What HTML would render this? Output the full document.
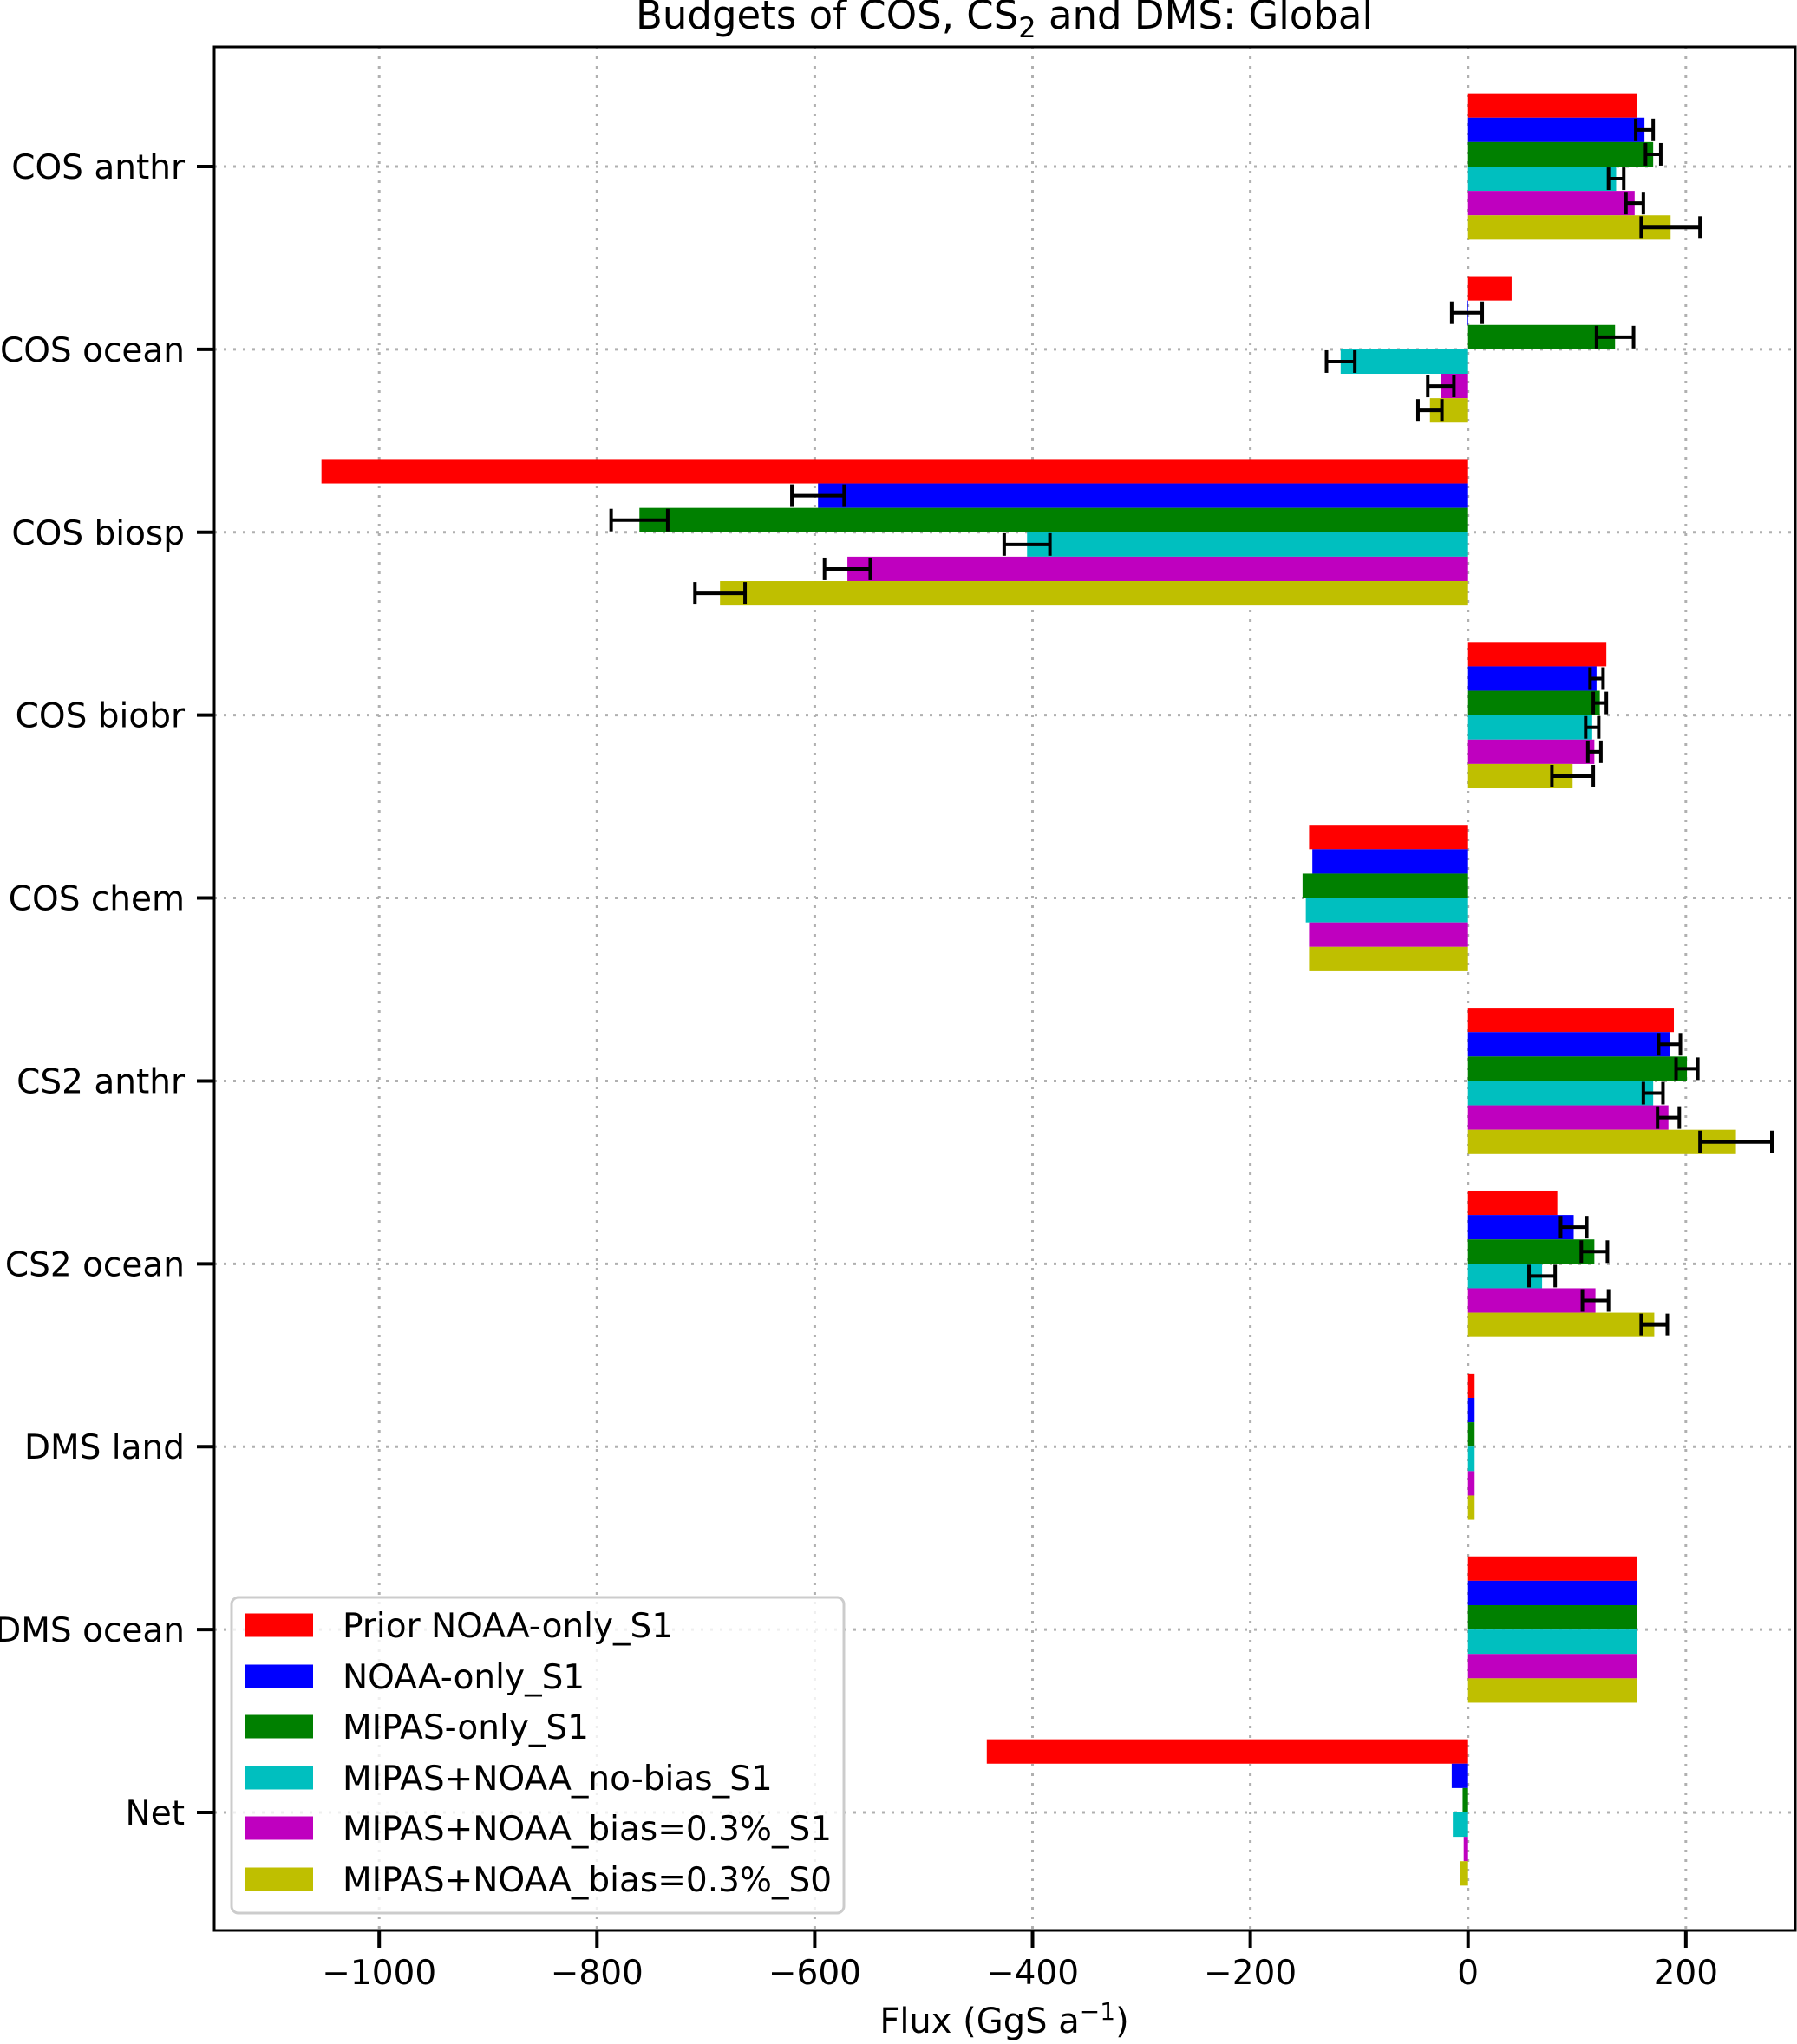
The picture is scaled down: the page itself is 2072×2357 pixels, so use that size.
<!DOCTYPE html>
<html><head><meta charset="utf-8"><style>
html,body{margin:0;padding:0;background:#fff;}
svg text{font-family:"DejaVu Sans","Liberation Sans",sans-serif;}
</style></head><body>
<svg id="chart" xmlns="http://www.w3.org/2000/svg" width="2072" height="2352" viewBox="0 0 2072 2352">
<rect x="0" y="0" width="2072" height="2352" fill="#fff"/>
<g id="grid"></g>
<g id="bars"></g>
<g id="errs"></g>
<rect x="247" y="54" width="1823" height="2172" fill="none" stroke="#000" stroke-width="3"/>
<g id="axes"></g>
<text x="1158" y="33" font-size="45" text-anchor="middle">Budgets of COS, CS<tspan font-size="32" dy="10">2</tspan><tspan dy="-10"> and DMS: Global</tspan></text>
<text x="1158" y="2344" font-size="40" text-anchor="middle">Flux (GgS a<tspan font-size="28" dy="-15">−1</tspan><tspan dy="15">)</tspan></text>
<g id="legend"></g>
</svg>
<script>
const categories = ["COS anthr","COS ocean","COS biosp","COS biobr","COS chem","CS2 anthr","CS2 ocean","DMS land","DMS ocean","Net"];
const seriesNames = ["Prior NOAA-only_S1","NOAA-only_S1","MIPAS-only_S1","MIPAS+NOAA_no-bias_S1","MIPAS+NOAA_bias=0.3%_S1","MIPAS+NOAA_bias=0.3%_S0"];
const seriesColors = ["#ff0000","#0000ff","#008000","#00bfbf","#bf00bf","#bfbf00"];
const priorVals   = [155, 40, -1053, 127, -146, 189, 82, 6, 155, -442];
const noaaVals    = [162, -1, -597, 118, -143, 185, 97, 6, 155, -15];
const mipasVals   = [170, 135, -761, 121, -152, 201, 116, 6, 155, -5];
const nobiasVals  = [136, -117, -405, 114, -149, 170, 68, 6, 155, -14];
const bias1Vals   = [153, -25, -570, 116, -146, 184, 117, 6, 155, -4];
const bias0Vals   = [186, -35, -687, 96, -146, 246, 171, 6, 155, -7];
const priorErr    = [null,null,null,null,null,null,null,null,null,null];
const noaaErr     = [8, 14, 24, 6, null, 10, 12, null, null, null];
const mipasErr    = [7, 17, 26, 6, null, 10, 12, null, null, null];
const nobiasErr   = [7, 13, 21, 6, null, 9, 12, null, null, null];
const bias1Err    = [8, 12, 21, 6, null, 10, 12, null, null, null];
const bias0Err    = [27, 11, 23, 19, null, 33, 12, null, null, null];
const xTicks = [-1000,-800,-600,-400,-200,0,200];
const xTickLabels = ["−1000","−800","−600","−400","−200","0","200"];

const seriesVals=[priorVals,noaaVals,mipasVals,nobiasVals,bias1Vals,bias0Vals];
const seriesErrs=[priorErr,noaaErr,mipasErr,nobiasErr,bias1Err,bias0Err];
const NS="http://www.w3.org/2000/svg";
const L=247,R=2070,T=54,B=2226;
const xMin=-1151.5,xMax=300.5;
function xs(v){return L+(v-xMin)/(xMax-xMin)*(R-L);}
const yFirst=192,yStep=(2090-192)/9;
function ys(i){return yFirst+i*yStep;}
const groupH=yStep*0.8, barH=groupH/6;
function mk(tag,attrs,parent){const e=document.createElementNS(NS,tag);for(const k in attrs)e.setAttribute(k,attrs[k]);parent.appendChild(e);return e;}
const grid=document.getElementById('grid'),bars=document.getElementById('bars'),errs=document.getElementById('errs'),axes=document.getElementById('axes'),legend=document.getElementById('legend');
xTicks.forEach((t,i)=>{
  const x=xs(t);
  const g=mk('line',{x1:x,x2:x,y1:T,y2:B,stroke:'#b0b0b0','stroke-width':3,'stroke-dasharray':'3,8'},grid);
  
  
  const tk=mk('line',{x1:x,x2:x,y1:B,y2:B+20,stroke:'#000','stroke-width':4},axes);
  
  
  const tl=mk('text',{x:x,y:2288,'font-size':39,'text-anchor':'middle'},axes);
  tl.textContent=xTickLabels[i];
  
  
});
categories.forEach((c,i)=>{
  const y=ys(i);
  const g=mk('line',{x1:L,x2:R,y1:y,y2:y,stroke:'#b0b0b0','stroke-width':3,'stroke-dasharray':'3,8'},grid);
  
  
  const tk=mk('line',{x1:L-20,x2:L,y1:y,y2:y,stroke:'#000','stroke-width':4},axes);
  
  
  const tl=mk('text',{x:L-34,y:y+14,'font-size':39,'text-anchor':'end'},axes);
  tl.textContent=c;
  
  
  seriesVals.forEach((vals,s)=>{
    const v=vals[i];
    const top=y-groupH/2+s*barH;
    const x0=xs(0),x1=xs(v);
    const r=mk('rect',{x:Math.min(x0,x1),y:top,width:Math.max(Math.abs(x1-x0),1),height:barH,fill:seriesColors[s]},bars);
    
    
    const e=seriesErrs[s][i];
    if(e!=null){
      const cy=top+barH/2,xa=xs(v-e),xb=xs(v+e);
      const eg=mk('g',{stroke:'#000','stroke-width':4},errs);
      
      
      mk('line',{x1:xa,x2:xb,y1:cy,y2:cy},eg);
      mk('line',{x1:xa,x2:xa,y1:cy-13,y2:cy+13},eg);
      mk('line',{x1:xb,x2:xb,y1:cy-13,y2:cy+13},eg);
    }
  });
});
const lb=mk('rect',{x:267,y:1842,width:706,height:364,rx:8,fill:'#fff','fill-opacity':0.8,stroke:'#cccccc','stroke-width':3},legend);


const legY=[1874,1933,1991,2050,2108,2167];
seriesNames.forEach((n,s)=>{
  const g=mk('g',{},legend);
  
  
  mk('rect',{x:283,y:legY[s]-13.5,width:78,height:27,fill:seriesColors[s]},g);
  const t=mk('text',{x:395,y:legY[s]+14,'font-size':39},g);
  t.textContent=n;
});
</script>
</body></html>
